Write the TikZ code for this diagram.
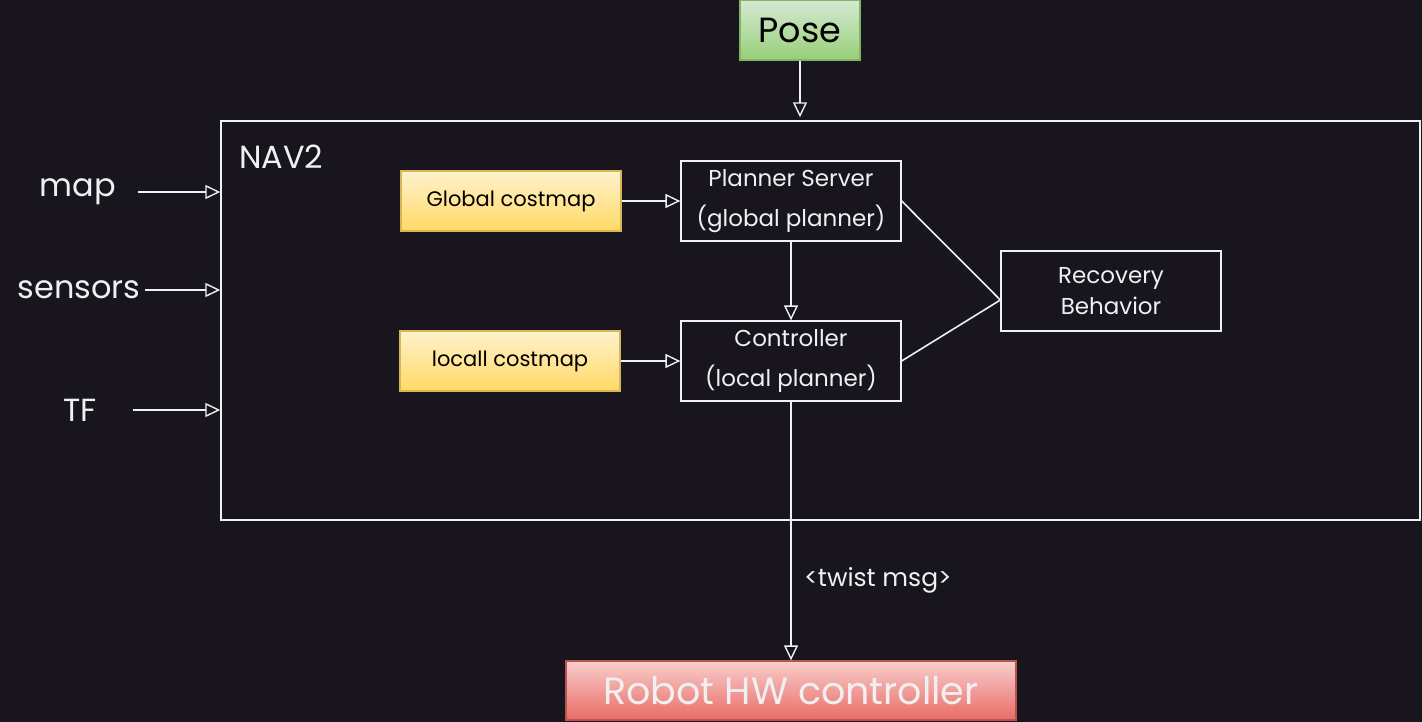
\documentclass[tikz,border=0pt]{standalone}
\usepackage{fontspec}
\setmainfont{Poppins}
\usetikzlibrary{arrows.meta}
\definecolor{bg}{RGB}{24,21,30}
\definecolor{ink}{RGB}{240,240,240}
\definecolor{gtop}{HTML}{D5E8D4}\definecolor{gbot}{HTML}{97D077}\definecolor{gbd}{HTML}{82B366}
\definecolor{ytop}{HTML}{FFF2CC}\definecolor{ybot}{HTML}{FFD966}\definecolor{ybd}{HTML}{D6B656}
\definecolor{rtop}{HTML}{F8CECC}\definecolor{rbot}{HTML}{EA6B66}\definecolor{rbd}{HTML}{B85450}
\tikzset{
  wbox/.style={draw=ink, line width=1.3pt, text=ink, minimum width=220pt, minimum height=80pt, align=center, inner sep=0pt, font=\fontsize{23}{40}\selectfont},
  ybox/.style={draw=ybd, line width=1.3pt, top color=ytop, bottom color=ybot, text=black, minimum width=220pt, minimum height=60pt, inner sep=0pt, font=\fontsize{21}{24}\selectfont},
  lbl/.style={text=ink, inner sep=0pt, font=\fontsize{32}{36}\selectfont},
  arr/.style={draw=ink, line width=1.4pt, -{Triangle[open,length=15pt,width=14pt]}},
  conn/.style={draw=ink, line width=1.6pt}
}
\begin{document}
\begin{tikzpicture}[x=1pt,y=-1pt]
\fill[bg] (0,0) rectangle (1422,722);
\useasboundingbox (0,0) rectangle (1422,722);
% containers and nodes
\node[draw=ink, line width=1.4pt, minimum width=1199pt, minimum height=399pt, inner sep=0pt] (nav) at (820.5,320.5) {};
\node[lbl, anchor=west] (navlbl) at (239,157) {NAV2};
\node[draw=gbd, line width=1.3pt, top color=gtop, bottom color=gbot, minimum width=120pt, minimum height=60pt, inner sep=0pt, font=\fontsize{35}{38}\selectfont] (pose) at (800,30) {Pose};
\node[ybox] (gcost) at (511,201) {Global costmap};
\node[ybox] (lcost) at (510,361) {locall costmap};
\node[wbox] (planner) at (791,201) {Planner Server\\(global planner)};
\node[wbox] (ctrl) at (791,361) {Controller\\(local planner)};
\node[wbox, font=\fontsize{23}{31}\selectfont] (recov) at (1111,291) {Recovery\\Behavior};
\node[draw=rbd, line width=1.3pt, top color=rtop, bottom color=rbot, text=ink, minimum width=450pt, minimum height=59pt, inner sep=0pt, font=\fontsize{38}{40}\selectfont] (robot) at (791,690.5) {Robot HW controller};
\node[lbl] (map) at (78,192) {map};
\node[lbl] (sensors) at (79,290) {sensors};
\node[lbl] (tf) at (80,410) {TF};
% connectors
\draw[arr] ([xshift=22pt]map.east) -- (map -| nav.west);
\draw[arr] ([xshift=4pt]sensors.east) -- (sensors -| nav.west);
\draw[arr] ([xshift=36pt]tf.east) -- (tf -| nav.west);
\draw[arr] (pose.south) -- ([yshift=3pt]pose |- nav.north);
\draw[arr] (gcost.east) -- (planner.west);
\draw[arr] (lcost.east) -- (ctrl.west);
\draw[arr] (planner.south) -- (ctrl.north);
\draw[conn] (planner.east) -- ([yshift=-9pt]recov.west);
\draw[conn] (ctrl.east) -- ([yshift=-9pt]recov.west);
\draw[arr] (ctrl.south) -- (robot.north) node[pos=0.69, right=9pt, text=ink, font=\fontsize{25}{28}\selectfont] (twist) {<twist msg>};
\end{tikzpicture}
\end{document}
